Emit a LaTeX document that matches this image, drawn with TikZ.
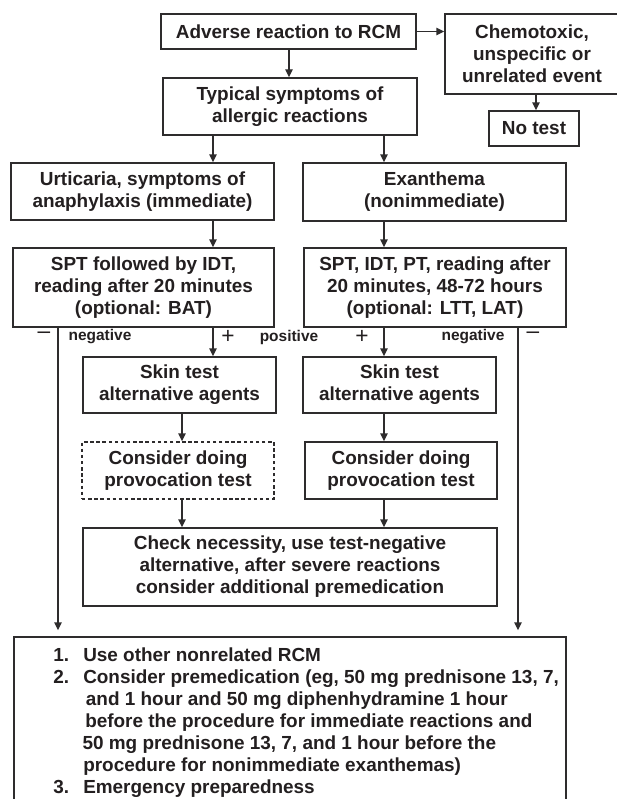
\documentclass[tikz,border=0pt]{standalone}
\usepackage{fontspec}
\setmainfont{Liberation Sans}
\usetikzlibrary{arrows.meta,calc}
\definecolor{ink}{HTML}{231F20}
\definecolor{linec}{HTML}{2E2C2D}
\begin{document}
\begin{tikzpicture}[x=0.75pt,y=-0.75pt,
  every node/.style={font=\bfseries\fontsize{14.2pt}{16.5pt}\selectfont, text=ink},
  sz/.style 2 args={minimum width=#1*0.75pt, minimum height=#2*0.75pt},
  box/.style={draw=linec, line width=1.05pt, align=center, inner sep=0pt},
  dbox/.style={box, dash pattern=on 2.6pt off 2pt},
  arr/.style={draw=linec, line width=1.05pt, -{Triangle[length=6pt,width=5.5pt]}},
  lbl/.style={font=\bfseries\fontsize{11.6pt}{13pt}\selectfont},
  sgn/.style={font=\fontsize{17pt}{18pt}\selectfont}
]
\clip (0,0) rectangle (617,799);
\fill[white] (0,0) rectangle (617,799);

% named x positions
\coordinate (cA) at (289,0);
\coordinate (cC) at (536,0);
\coordinate (cL) at (213,0);
\coordinate (cR) at (384,0);
\coordinate (cM) at (182,0);
\coordinate (cLL) at (58,0);
\coordinate (cRR) at (518,0);

% boxes
\node[box, sz={255}{35}] (adv) at (288.5,31.5) {Adverse reaction to RCM};
\node[box, sz={174}{80}] (chem) at (532,54) {Chemotoxic,\\unspecific or\\unrelated event};
\node[box, sz={90}{35}] (notest) at (534,128.5) {No test};
\node[box, sz={254}{57}] (typ) at (290,106.5) {Typical symptoms of\\allergic reactions};
\node[box, sz={263}{57}] (urt) at (142.5,191.5) {Urticaria, symptoms of\\anaphylaxis (immediate)};
\node[box, sz={263}{58}] (exa) at (434.5,192) {Exanthema\\(nonimmediate)};
\node[box, sz={261}{79}] (sptL) at (143.5,287.5) {SPT followed by IDT,\\reading after 20 minutes\\(optional: BAT)};
\node[box, sz={262}{79}] (sptR) at (435,287.5) {SPT, IDT, PT, reading after\\20 minutes, 48-72 hours\\(optional: LTT, LAT)};
\node[box, sz={193}{56}] (skL) at (179.5,385) {Skin test\\alternative agents};
\node[box, sz={193}{56}] (skR) at (399.5,385) {Skin test\\alternative agents};
\node[dbox, sz={192}{57}] (conL) at (178,470.5) {Consider doing\\provocation test};
\node[box, sz={192}{57}] (conR) at (401,470.5) {Consider doing\\provocation test};
\node[box, sz={414}{78}] (chk) at (290,567) {Check necessity, use test-negative\\alternative, after severe reactions\\consider additional premedication};
\node[box, sz={552}{200}] (final) at (290,737) {};

% list text
\node[anchor=base west, inner sep=0pt] (list) at (53,661.5) {%
\begin{tabular}[t]{@{}p{22.5pt}@{}l@{}}
1. & Use other nonrelated RCM\\
2. & Consider premedication (eg, 50 mg prednisone 13, 7,\\
   & \hspace{2pt}and 1 hour and 50 mg diphenhydramine 1 hour\\
   & \hspace{1.5pt}before the procedure for immediate reactions and\\
   & \hspace{-0.5pt}50 mg prednisone 13, 7, and 1 hour before the\\
   & procedure for nonimmediate exanthemas)\\
3. & Emergency preparedness
\end{tabular}};

% labels
\node[sgn] (mL) at (44,335.5) {–};
\node[lbl] (negL) at (100,337) {negative};
\node[sgn] (pL) at (228,337) {+};
\node[lbl] (pos) at (289,337) {positive};
\node[sgn] (pR) at (362,337) {+};
\node[lbl] (negR) at (473,337) {negative};
\node[sgn] (mR) at (533,335.5) {–};

% connectors
\draw[arr] (adv.east) -- (adv.east -| chem.west);
\draw[arr] (chem.south -| cC) -- (notest.north -| cC);
\draw[arr] (adv.south -| cA) -- (typ.north -| cA);
\draw[arr] (typ.south -| cL) -- (urt.north -| cL);
\draw[arr] (typ.south -| cR) -- (exa.north -| cR);
\draw[arr] (urt.south -| cL) -- (sptL.north -| cL);
\draw[arr] (exa.south -| cR) -- (sptR.north -| cR);
\draw[arr] (sptL.south -| cL) -- (skL.north -| cL);
\draw[arr] (sptR.south -| cR) -- (skR.north -| cR);
\draw[arr] (skL.south -| cM) -- (conL.north -| cM);
\draw[arr] (skR.south -| cR) -- (conR.north -| cR);
\draw[arr] (conL.south -| cM) -- (chk.north -| cM);
\draw[arr] (conR.south -| cR) -- (chk.north -| cR);
\draw[arr, shorten >=4.5pt] (sptL.south -| cLL) -- (final.north -| cLL);
\draw[arr, shorten >=4.5pt] (sptR.south -| cRR) -- (final.north -| cRR);
\end{tikzpicture}
\end{document}
